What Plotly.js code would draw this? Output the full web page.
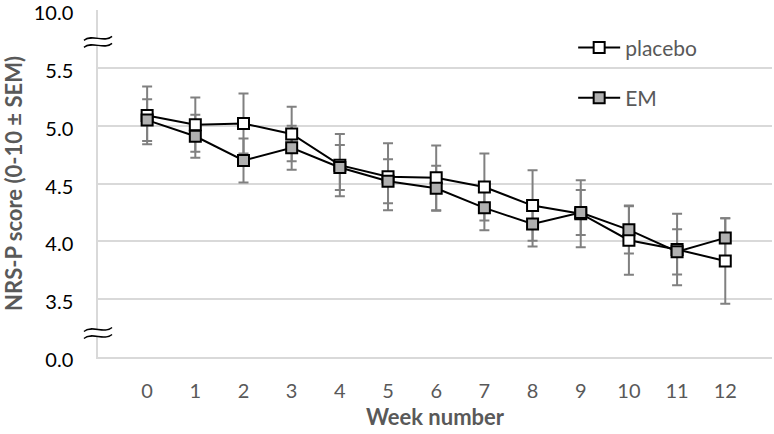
<!DOCTYPE html>
<html>
<head>
<meta charset="utf-8">
<script src="https://cdn.plot.ly/plotly-3.0.1.min.js"></script>
<style>
  html, body { margin: 0; padding: 0; background: #fff; }
  #plot { width: 774px; height: 434px; }
</style>
</head>
<body>
<div id="plot"></div>
<script>
  // semanas e médias (escala quebrada: 3.0 -> "0.0", 6.0 -> "10.0")
  const weeks = [0, 1, 2, 3, 4, 5, 6, 7, 8, 9, 10, 11, 12];
  const placeboMean = [5.09, 5.01, 5.02, 4.93, 4.66, 4.56, 4.55, 4.47, 4.31, 4.24, 4.01, 3.93, 3.83];
  const placeboSem  = [0.25, 0.235, 0.26, 0.236, 0.27, 0.29, 0.28, 0.29, 0.305, 0.29, 0.30, 0.31, 0.37];
  const emMean = [5.05, 4.91, 4.70, 4.81, 4.64, 4.52, 4.46, 4.29, 4.15, 4.25, 4.10, 3.91, 4.03];
  const emSem  = [0.18, 0.187, 0.19, 0.19, 0.195, 0.19, 0.194, 0.193, 0.195, 0.195, 0.205, 0.196, 0.17];

  const yTickVals = [3.0, 3.5, 4.0, 4.5, 5.0, 5.5, 6.0];
  const yTickText = ['0.0', '3.5', '4.0', '4.5', '5.0', '5.5', '10.0'];
  const breakAt = [3.22, 5.74];

  const grey = '#595959';
  const fontFam = 'Lato, "Open Sans", sans-serif';

  function errTrace(y, sem) {
    return {
      x: weeks, y: y, type: 'scatter', mode: 'markers',
      marker: { size: 1, color: 'rgba(0,0,0,0)' },
      error_y: { type: 'data', array: sem, visible: true, color: '#808080', thickness: 2, width: 5 },
      showlegend: false, hoverinfo: 'skip'
    };
  }

  const trace1 = {
    x: weeks, y: placeboMean, type: 'scatter', mode: 'lines+markers', name: 'placebo',
    legendgroup: 'a',
    line: { color: '#000', width: 2 },
    marker: { symbol: 'square', size: 11, color: '#fff', line: { color: '#000', width: 2 } }
  };
  const trace2 = {
    x: weeks, y: emMean, type: 'scatter', mode: 'lines+markers', name: 'EM',
    legendgroup: 'b',
    line: { color: '#000', width: 2 },
    marker: { symbol: 'square', size: 11, color: '#b0b0b0', line: { color: '#000', width: 2 } }
  };

  // marcas de quebra no eixo y
  const shapes = [];
  breakAt.forEach(function (v) {
    shapes.push({
      type: 'path', xref: 'paper', yref: 'y', xsizemode: 'pixel', ysizemode: 'pixel',
      xanchor: 0, yanchor: v,
      path: 'M -14,0 C -6,7 6,-3 14,4 L 14,-3 C 6,-10 -6,0 -14,-7 Z',
      fillcolor: '#fff', line: { width: 0 }
    });
    shapes.push({
      type: 'path', xref: 'paper', yref: 'y', xsizemode: 'pixel', ysizemode: 'pixel',
      xanchor: 0, yanchor: v,
      path: 'M -14,0 C -6,7 6,-3 14,4',
      line: { color: '#000', width: 1.5 }
    });
    shapes.push({
      type: 'path', xref: 'paper', yref: 'y', xsizemode: 'pixel', ysizemode: 'pixel',
      xanchor: 0, yanchor: v,
      path: 'M -14,-7 C -6,0 6,-10 14,-3',
      line: { color: '#000', width: 1.5 }
    });
  });

  const layout = {
    width: 774, height: 434,
    margin: { l: 98, r: 2, t: 10, b: 77 },
    paper_bgcolor: '#fff', plot_bgcolor: '#fff',
    font: { family: fontFam, color: grey },
    showlegend: true,
    legend: {
      x: 0.705, xanchor: 'left', y: 0.95, yanchor: 'top',
      font: { size: 21, color: grey }, tracegroupgap: 20, itemwidth: 42,
      bgcolor: 'rgba(0,0,0,0)'
    },
    xaxis: {
      range: [-1.02, 12.97], tickvals: weeks, ticktext: weeks.map(String),
      showgrid: false, zeroline: false,
      showline: true, linecolor: '#d9d9d9', linewidth: 1.5,
      ticks: '', ticklabelstandoff: 15,
      tickfont: { size: 20, color: grey },
      title: { text: '<b>Week number</b>', font: { size: 22, color: grey }, standoff: 9 }
    },
    yaxis: {
      range: [2.999, 6.003], tickvals: yTickVals, ticktext: yTickText,
      showgrid: true, gridcolor: '#d9d9d9', gridwidth: 1.5, zeroline: false,
      showline: true, linecolor: '#d9d9d9', linewidth: 1.5,
      ticks: '', ticklabelstandoff: 19, ticklabelshift: 3, ticklabeloverflow: 'allow',
      tickfont: { size: 20, color: '#000' },
      title: { text: '<b>NRS-P score (0-10 ± SEM)</b>', font: { size: 22, color: grey }, standoff: 17 }
    },
    shapes: shapes
  };

  Plotly.newPlot('plot', [errTrace(placeboMean, placeboSem), errTrace(emMean, emSem), trace1, trace2], layout, { displayModeBar: false });
</script>
</body>
</html>
